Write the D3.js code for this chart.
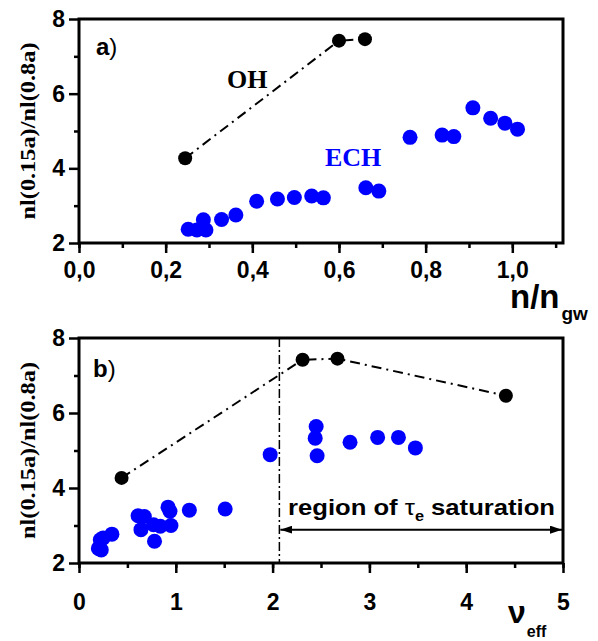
<!DOCTYPE html>
<html>
<head>
<meta charset="utf-8">
<script src="https://cdn.jsdelivr.net/npm/d3@7"></script>
<style>
  body { margin: 0; background: #fff; }
  svg { display: block; }
  .tick text { font-family: "Liberation Sans", Arial, sans-serif; font-weight: bold; font-size: 23px; fill: #000; }
  .domain { display: none; }
  .tick line { stroke: #000; stroke-width: 2.5; }
</style>
</head>
<body>
<div id="chart"></div>
<script>
let width = 598
  , height = 641
  , left = 79
  , right = 563;

// panel a) : n/n_gw
let ohA_x = [0.245, 0.600, 0.660];
let ohA_y = [4.27, 7.42, 7.46];
let echA_x = [0.252, 0.272, 0.287, 0.293, 0.329, 0.362, 0.410, 0.458, 0.497, 0.537, 0.564,
              0.662, 0.692, 0.764, 0.838, 0.865, 0.909, 0.950, 0.983, 1.012];
let echA_y = [2.37, 2.35, 2.62, 2.35, 2.63, 2.75, 3.12, 3.18, 3.22, 3.26, 3.21,
              3.48, 3.39, 4.83, 4.89, 4.85, 5.62, 5.34, 5.21, 5.05];

// panel b) : nu_eff
let ohB_x = [0.44, 2.31, 2.67, 4.41];
let ohB_y = [4.27, 7.42, 7.45, 6.46];
let echB_x = [0.20, 0.23, 0.22, 0.25, 0.34, 0.61, 0.675, 0.64, 0.77, 0.84, 0.78, 0.92, 0.94, 0.95,
              1.14, 1.51, 1.975, 2.45, 2.44, 2.46, 2.80, 3.085, 3.30, 3.475];
let echB_y = [2.39, 2.35, 2.62, 2.67, 2.77, 3.26, 3.24, 2.89, 3.02, 2.98, 2.58, 3.49, 3.38, 3.00,
              3.41, 3.44, 4.89, 5.64, 5.33, 4.86, 5.22, 5.35, 5.35, 5.07];

let satStart = 2.07, satArrowY = 2.89;

let xTicksA = [0, 0.2, 0.4, 0.6, 0.8, 1.0];
let xMinorA = d3.range(0, 1.15, 0.1);
let xTicksB = [0, 1, 2, 3, 4, 5];
let xMinorB = d3.range(0, 5.01, 0.5);
let yTicks = [2, 4, 6, 8];
let yMinor = [3, 5, 7];

let svg = d3.select("#chart").append("svg").attr("width", width).attr("height", height);

let defs = svg.append("defs");
defs.append("marker").attr("id", "arr").attr("viewBox", "0 0 12 8")
  .attr("refX", 12).attr("refY", 4).attr("markerWidth", 12).attr("markerHeight", 8)
  .attr("markerUnits", "userSpaceOnUse").attr("orient", "auto-start-reverse")
  .append("path").attr("d", "M0,0L12,4L0,8Z").attr("fill", "#000");

let fmtComma = d => d3.format(".1f")(d).replace(".", ",");

function panel(top, bottom, xDomain, xTicks, xMinor, xFmt, xPad) {
  let x = d3.scaleLinear().domain(xDomain).range([left, right]);
  let y = d3.scaleLinear().domain([2, 8]).range([bottom, top]);
  let g = svg.append("g");

  g.append("g").attr("transform", `translate(0,${bottom})`)
    .call(d3.axisBottom(x).tickValues(xMinor).tickSize(5).tickFormat(""));
  g.append("g").attr("transform", `translate(0,${bottom})`)
    .call(d3.axisBottom(x).tickValues(xTicks).tickSize(10).tickPadding(xPad).tickFormat(xFmt));
  g.append("g").attr("transform", `translate(${left},0)`)
    .call(d3.axisLeft(y).tickValues(yMinor).tickSize(5).tickFormat(""));
  g.append("g").attr("transform", `translate(${left},0)`)
    .call(d3.axisLeft(y).tickValues(yTicks).tickSize(10).tickPadding(4).tickFormat(d3.format("d")));

  g.append("rect").attr("x", left).attr("y", top).attr("width", right - left).attr("height", bottom - top)
    .attr("fill", "none").attr("stroke", "#000").attr("stroke-width", 3);

  // y label
  g.append("text")
    .attr("transform", `translate(35,${(top + bottom) / 2}) rotate(-90)`)
    .attr("text-anchor", "middle")
    .attr("textLength", 177).attr("lengthAdjust", "spacingAndGlyphs")
    .style("font-family", "'Liberation Serif', 'Times New Roman', serif")
    .style("font-weight", "bold").style("font-size", "20px")
    .text("nl(0.15a)/nl(0.8a)");

  return { g, x, y };
}

function dots(p, xs, ys, color, r) {
  p.g.append("g").selectAll("circle").data(xs.map((v, i) => [v, ys[i]])).enter()
    .append("circle")
    .attr("cx", d => p.x(d[0])).attr("cy", d => p.y(d[1]))
    .attr("r", r).attr("fill", color);
}

function ohLine(p, xs, ys) {
  let line = d3.line().x(d => p.x(d[0])).y(d => p.y(d[1]));
  p.g.append("path").datum(xs.map((v, i) => [v, ys[i]]))
    .attr("d", line).attr("fill", "none").attr("stroke", "#000")
    .attr("stroke-width", 2).attr("stroke-dasharray", "10,5,2,5");
}

// ---- a)
let pa = panel(19, 243, [0, 1.117], xTicksA, xMinorA, fmtComma, 9);
ohLine(pa, ohA_x, ohA_y);
dots(pa, echA_x, echA_y, "#0000ff", 7.5);
dots(pa, ohA_x, ohA_y, "#000", 7);

pa.g.append("text").attr("x", 96).attr("y", 55)
  .style("font-family", "'Liberation Sans', Arial, sans-serif").style("font-size", "24px")
  .call(t => t.append("tspan").style("font-weight", "bold").text("a"))
  .call(t => t.append("tspan").text(")"));

pa.g.append("text").attr("x", 227).attr("y", 88)
  .style("font-family", "'Liberation Serif', 'Times New Roman', serif")
  .style("font-weight", "bold").style("font-size", "26px").text("OH");
pa.g.append("text").attr("x", 325).attr("y", 165.5).attr("fill", "#0000ff")
  .style("font-family", "'Liberation Serif', 'Times New Roman', serif")
  .style("font-weight", "bold").style("font-size", "26px").text("ECH");

let xa = svg.append("text").attr("x", 510).attr("y", 308)
  .style("font-family", "'Liberation Sans', Arial, sans-serif").style("font-weight", "bold");
xa.append("tspan").style("font-size", "33px").text("n/n");
xa.append("tspan").attr("dy", 12).attr("dx", 2).style("font-size", "19px").text("gw");

// ---- b)
let pb = panel(338, 563, [0, 5], xTicksB, xMinorB, d3.format("d"), 21);

pb.g.append("line")
  .attr("x1", pb.x(satStart)).attr("x2", pb.x(satStart))
  .attr("y1", 338).attr("y2", 563)
  .attr("stroke", "#000").attr("stroke-width", 1.5).attr("stroke-dasharray", "9,3,2,3");

pb.g.append("line")
  .attr("x1", pb.x(satStart) + 1).attr("x2", right - 1)
  .attr("y1", pb.y(satArrowY)).attr("y2", pb.y(satArrowY))
  .attr("stroke", "#000").attr("stroke-width", 2)
  .attr("marker-start", "url(#arr)").attr("marker-end", "url(#arr)");

let sat = pb.g.append("text").attr("x", 288).attr("y", 515)
  .attr("textLength", 267).attr("lengthAdjust", "spacingAndGlyphs")
  .style("font-family", "'Liberation Sans', Arial, sans-serif").style("font-weight", "bold").style("font-size", "22px");
sat.append("tspan").text("region of ");
sat.append("tspan").style("font-weight", "normal").text("τ");
sat.append("tspan").attr("dy", 6).style("font-size", "14px").text("e");
sat.append("tspan").attr("dy", -6).text(" saturation");

ohLine(pb, ohB_x, ohB_y);
dots(pb, echB_x, echB_y, "#0000ff", 7.5);
dots(pb, ohB_x, ohB_y, "#000", 7);

pb.g.append("text").attr("x", 93).attr("y", 377)
  .style("font-family", "'Liberation Sans', Arial, sans-serif").style("font-size", "24px")
  .call(t => t.append("tspan").style("font-weight", "bold").text("b"))
  .call(t => t.append("tspan").text(")"));

let xb = svg.append("text").attr("x", 508).attr("y", 623)
  .style("font-family", "'Liberation Sans', Arial, sans-serif").style("font-weight", "bold");
xb.append("tspan").style("font-size", "32px").text("ν");
xb.append("tspan").attr("dy", 14).attr("dx", 1).style("font-size", "16px").text("eff");
</script>
</body>
</html>
